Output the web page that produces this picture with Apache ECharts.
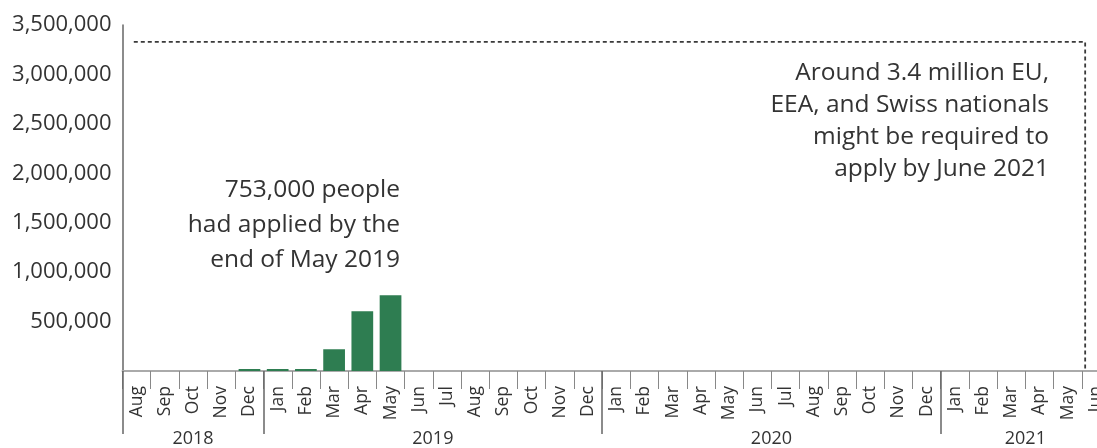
<!DOCTYPE html>
<html>
<head>
<meta charset="utf-8">
<script src="https://cdn.jsdelivr.net/npm/echarts@6/dist/echarts.min.js"></script>
<style>
html,body{margin:0;padding:0;background:#fff;overflow:hidden;width:1097px;height:448px;}
#c{width:1110px;height:448px;}
</style>
</head>
<body>
<div id="c"></div>
<script>
const categories = ['Aug 2018','Sep 2018','Oct 2018','Nov 2018','Dec 2018',
  'Jan 2019','Feb 2019','Mar 2019','Apr 2019','May 2019','Jun 2019','Jul 2019','Aug 2019','Sep 2019','Oct 2019','Nov 2019','Dec 2019',
  'Jan 2020','Feb 2020','Mar 2020','Apr 2020','May 2020','Jun 2020','Jul 2020','Aug 2020','Sep 2020','Oct 2020','Nov 2020','Dec 2020',
  'Jan 2021','Feb 2021','Mar 2021','Apr 2021','May 2021','Jun 2021'];
const applied = [null,null,null,null,20000,20000,20000,220000,605000,765000];
const yTicks = [0,500000,1000000,1500000,2000000,2500000,3000000,3500000];
const targetValue = 3330000;
const targetStartIndex = 0.4;
const deadlineIndex = 34.12;
const note1 = '753,000 people\nhad applied by the\nend of May 2019';
const note2 = 'Around 3.4 million EU,\nEEA, and Swiss nationals\nmight be required to\napply by June 2021';

// year groups derived from categories
const years = [];
const yearStarts = [];
categories.forEach((c, i) => {
  const y = c.split(' ')[1];
  if (years[years.length - 1] !== y) { years.push(y); yearStarts.push(i); }
});
const yearCentres = yearStarts.map((s, i) => {
  const e = i + 1 < yearStarts.length ? yearStarts[i + 1] : categories.length;
  return (s + e) / 2;
});

const FONT = "'Open Sans', 'Noto Sans', sans-serif";
const chart = echarts.init(document.getElementById('c'), null, {renderer: 'canvas'});
chart.setOption({
  animation: false,
  backgroundColor: '#fff',
  grid: {left: 122.5, top: 25, right: 0, bottom: 73, containLabel: false},
  xAxis: [{
    type: 'category',
    data: categories,
    position: 'bottom',
    axisLine: {show: true, lineStyle: {color: '#aaa', width: 2}},
    axisTick: {show: true, interval: 0, length: 18, lineStyle: {color: '#888', width: 1}},
    axisLabel: {
      interval: 0, rotate: 90, margin: 15, fontSize: 17.5, color: '#333', fontFamily: FONT,
      formatter: v => v.split(' ')[0]
    },
    splitLine: {show: false}
  }, {
    type: 'value',
    min: 0, max: categories.length,
    position: 'bottom',
    axisLine: {show: false},
    axisTick: {show: true, customValues: yearStarts, length: 63, lineStyle: {color: '#666', width: 1.5}},
    axisLabel: {
      show: true, customValues: yearCentres, margin: 59, fontSize: 18, color: '#333', fontFamily: FONT,
      formatter: v => years[yearCentres.indexOf(v)] || ''
    },
    splitLine: {show: false}
  }],
  yAxis: {
    type: 'value',
    min: 0, max: 3500000, interval: 500000,
    axisLine: {show: true, lineStyle: {color: '#666', width: 1.5}},
    axisTick: {show: false},
    splitLine: {show: false},
    axisLabel: {
      margin: 11, fontSize: 22, color: '#333', fontFamily: FONT,
      formatter: v => v === 0 ? '' : v.toLocaleString('en-US')
    }
  },
  series: [{
    type: 'bar',
    xAxisIndex: 0,
    data: applied,
    barCategoryGap: '23%',
    itemStyle: {color: '#2e7d51'},
    silent: true
  }, {
    type: 'line',
    xAxisIndex: 1,
    data: [[targetStartIndex, targetValue], [deadlineIndex, targetValue], [deadlineIndex, 0]],
    symbol: 'none',
    lineStyle: {color: '#3a3a3a', width: 1.8, type: [4, 3]},
    silent: true
  }],
  graphic: [{
    type: 'text', x: 400, y: 173,
    style: {text: note1, font: "24.5px " + FONT, fill: '#333', align: 'right', verticalAlign: 'top', lineHeight: 35}
  }, {
    type: 'text', x: 1049, y: 57,
    style: {text: note2, font: "24.5px " + FONT, fill: '#333', align: 'right', verticalAlign: 'top', lineHeight: 32}
  }]
});
</script>
</body>
</html>
